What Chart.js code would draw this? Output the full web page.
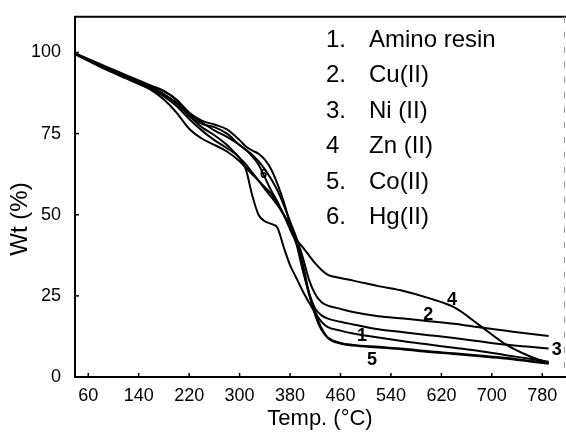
<!DOCTYPE html>
<html>
<head>
<meta charset="utf-8">
<script src="https://cdn.jsdelivr.net/npm/chart.js@4/dist/chart.umd.min.js"></script>
<style>
  html, body { margin: 0; padding: 0; background: #fff; }
</style>
</head>
<body>
<canvas id="tgaChart" width="566" height="433"></canvas>
<script>
const temps = [41, 80, 120, 160, 180, 200, 220, 240, 260, 280, 300, 310, 320, 330, 340, 350, 360, 370,
  380, 390, 400, 410, 420, 430, 440, 460, 480, 520, 560, 600, 640, 680, 720, 760, 790];

// Weight remaining (%)
const wtAmino = [99.6, 96.2, 92.8, 89.2, 87.2, 84.2, 80.5, 77, 74.5, 71.5, 67.5, 65.5, 63, 60.5, 58, 55.5, 53, 50,
  47, 42, 34, 25.5, 20, 17, 15.4, 14.3, 13.4, 12.2, 11, 10, 9, 8, 6.8, 5.6, 4.7];
const wtCu = [99.6, 96.3, 93, 89.8, 88.2, 85.3, 80.5, 78, 77, 75, 71.5, 70, 68.5, 66.5, 64, 61, 57.5, 53,
  48, 43, 37, 30, 25.5, 23, 22, 21, 20, 18.7, 18, 17.2, 16.4, 15.3, 14.3, 13.3, 12.6];
const wtNi = [99.5, 95.6, 92.2, 88.4, 85.5, 81.5, 76.5, 73.5, 71.5, 69.5, 66.5, 64.5, 62.5, 60.5, 58.5, 56.5, 53.5, 50,
  45.5, 41, 33, 26, 21, 19, 18, 17, 16.2, 14.7, 13.8, 12.9, 12, 11, 10, 9.3, 8.8];
const wtZn = [99.5, 96, 92.6, 89.5, 88, 85.5, 81.5, 79, 77.8, 76.3, 73, 71, 69.8, 68.8, 67, 64, 59.5, 54,
  47.5, 42.5, 40, 37.5, 35, 33, 31.5, 30.5, 29.7, 28, 26.5, 24.3, 21.5, 16, 10.3, 6.4, 4.4];
const wtCo = [99.3, 95.5, 92, 88.6, 86.5, 83.5, 79.5, 76, 73, 70.5, 67.5, 64, 56, 50, 48, 47.2, 46, 40,
  34.5, 30.5, 26.5, 23, 19.5, 15, 12, 10.3, 9.7, 9.1, 8.5, 7.7, 7.1, 6.4, 5.7, 4.8, 4.1];
const wtHg = [99.5, 95.8, 92.3, 89, 87, 84.5, 81, 78.5, 76, 74, 71.5, 70, 68, 65.5, 61.5, 57.5, 54, 50,
  46, 42, 35, 26, 19, 14.5, 12.2, 10.5, 9.9, 9.3, 8.7, 7.9, 7.3, 6.6, 5.9, 5, 4.3];

const seriesNames = ["Amino resin", "Cu(II)", "Ni (II)", "Zn (II)", "Co(II)", "Hg(II)"];
const seriesNums = ["1.", "2.", "3.", "4", "5.", "6."];
const allWeights = [wtAmino, wtCu, wtNi, wtZn, wtCo, wtHg];

const tempTicks = [60, 140, 220, 300, 380, 460, 540, 620, 700, 780];
const wtTicks = [0, 25, 50, 75, 100];

// curve number labels: [text, temp, wt]
const curveLabels = [["1", 494, 12.6], ["2", 599, 19.2], ["3", 803, 8.4], ["4", 637, 23.6], ["5", 510, 5.2], ["6", 338, 62.5]];

const FONT = "'Liberation Sans', Arial, sans-serif";

const extras = {
  id: "extras",
  afterDraw(chart) {
    const { ctx, chartArea: a, scales: { x, y } } = chart;
    ctx.save();
    ctx.strokeStyle = "#000";
    ctx.fillStyle = "#000";

    // top frame line
    ctx.lineWidth = 2;
    ctx.beginPath();
    ctx.moveTo(a.left - 1, a.top);
    ctx.lineTo(chart.width, a.top);
    ctx.stroke();

    // faint broken right frame
    ctx.lineWidth = 1;
    ctx.strokeStyle = "#999";
    ctx.setLineDash([6, 9]);
    ctx.beginPath();
    ctx.moveTo(a.right - 0.5, a.top);
    ctx.lineTo(a.right - 0.5, a.bottom);
    ctx.stroke();
    ctx.setLineDash([]);

    // inward tick marks
    ctx.strokeStyle = "#000";
    ctx.lineWidth = 1.5;
    x.ticks.forEach(t => {
      const px = x.getPixelForValue(t.value);
      ctx.beginPath();
      ctx.moveTo(px, a.bottom);
      ctx.lineTo(px, a.bottom - 4);
      ctx.stroke();
    });
    y.ticks.forEach(t => {
      const py = y.getPixelForValue(t.value);
      ctx.beginPath();
      ctx.moveTo(a.left, py);
      ctx.lineTo(a.left + 4, py);
      ctx.stroke();
    });

    // legend list
    ctx.font = "24px " + FONT;
    ctx.textBaseline = "middle";
    ctx.textAlign = "left";
    seriesNames.forEach((name, i) => {
      const ly = 40 + i * 35.5;
      ctx.fillText(seriesNums[i], 326, ly);
      ctx.fillText(name, 369, ly);
    });

    // numbers on the curves
    ctx.textAlign = "center";
    curveLabels.forEach(([txt, t, w]) => {
      ctx.font = (txt === "6" ? "bold 13px " : "bold 18px ") + FONT;
      ctx.fillText(txt, x.getPixelForValue(t), y.getPixelForValue(w));
    });

    // y axis title
    ctx.font = "24px " + FONT;
    ctx.translate(20, 219);
    ctx.rotate(-Math.PI / 2);
    ctx.fillText("Wt (%)", 0, 0);
    ctx.restore();
  }
};

const ctx = document.getElementById("tgaChart").getContext("2d");
const tgaChart = new Chart(ctx, {
  type: "line",
  data: {
    datasets: allWeights.map((w, i) => ({
      label: seriesNames[i],
      data: temps.map((t, j) => ({ x: t, y: w[j] })),
      borderColor: "#000",
      borderWidth: 2,
      pointRadius: 0,
      fill: false,
      cubicInterpolationMode: "monotone",
    })),
  },
  options: {
    responsive: false,
    animation: false,
    layout: { padding: { top: 14, right: 1, left: 0, bottom: 0 } },
    plugins: {
      legend: { display: false },
      tooltip: { enabled: false },
    },
    scales: {
      x: {
        type: "linear",
        min: 39,
        max: 816,
        afterBuildTicks: s => { s.ticks = tempTicks.map(v => ({ value: v })); },
        afterFit: s => { s.height = 56; },
        grid: { display: false },
        border: { display: true, color: "#000", width: 2 },
        ticks: { color: "#000", font: { family: FONT, size: 18 }, padding: 0, maxRotation: 0, autoSkip: false },
        title: {
          display: true,
          text: "Temp. (°C)",
          color: "#000",
          font: { family: FONT, size: 22 },
          padding: { top: 0, bottom: 1 },
        },
      },
      y: {
        min: 0,
        max: 111,
        afterBuildTicks: s => { s.ticks = wtTicks.map(v => ({ value: v })); },
        afterFit: s => { s.width = 75; },
        grid: { display: false },
        border: { display: true, color: "#000", width: 2 },
        ticks: { color: "#000", font: { family: FONT, size: 18 }, padding: 6 },
      },
    },
  },
  plugins: [extras],
});
</script>
</body>
</html>
